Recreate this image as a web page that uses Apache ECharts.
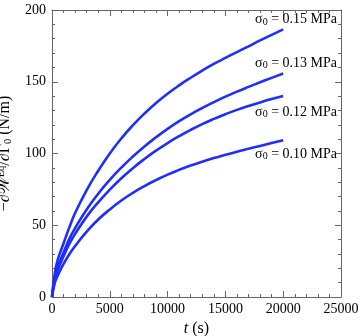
<!DOCTYPE html>
<html>
<head>
<meta charset="utf-8">
<script src="https://cdn.jsdelivr.net/npm/echarts@6/dist/echarts.min.js"></script>
<style>html,body{margin:0;padding:0;background:#fff}#c{width:360px;height:336px}</style>
</head>
<body>
<div id="c"></div>
<script>
const times = [0, 250, 500, 1000, 1500, 2000, 3000, 4000, 5000, 6000, 7000, 8000, 9000, 10000, 11000, 12000, 13000, 14000, 15000, 16000, 17000, 18000, 19000, 20000];
const s015 = [0, 17, 26, 37.5, 48.5, 58.5, 74.5, 88, 100, 110.5, 119.7, 127.9, 135.2, 141.7, 147.5, 152.8, 157.8, 162.4, 166.6, 170.7, 174.7, 178.8, 182.7, 186.5];
const s013 = [0, 14, 21, 31, 40.5, 48, 61, 72, 81.6, 90.2, 97.9, 104.9, 111.3, 117.2, 122.5, 127.3, 131.7, 135.8, 139.6, 143.1, 146.4, 149.6, 152.7, 155.7];
const s012 = [0, 12.5, 19, 28.5, 37, 44, 56, 66, 74.8, 82.7, 89.8, 96.2, 102, 107.3, 112.1, 116.5, 120.5, 124.1, 127.4, 130.4, 133.1, 135.6, 137.9, 140];
const s010 = [0, 10, 15, 23, 29.8, 35.5, 45.5, 54, 61, 67.2, 72.6, 77.3, 81.5, 85.3, 88.6, 91.6, 94.3, 96.8, 99.1, 101.3, 103.3, 105.3, 107.3, 109.3];
const seriesLabels = ['0.15', '0.13', '0.12', '0.10'];
const seriesData = [s015, s013, s012, s010];
const xTicks = [0, 5000, 10000, 15000, 20000, 25000];
const yTicks = [0, 50, 100, 150, 200];

const FONT = 'Liberation Serif';
const frame = '#666';
const chart = echarts.init(document.getElementById('c'));
const axisCommon = {
  axisLine: {show: true, onZero: false, lineStyle: {color: frame, width: 1}},
  axisTick: {show: true, inside: true, length: 6, lineStyle: {color: frame}},
  minorTick: {show: true, splitNumber: 5, length: 3, lineStyle: {color: frame}},
  splitLine: {show: false}
};
const xBase = {type: 'value', min: xTicks[0], max: xTicks[xTicks.length - 1], interval: xTicks[1] - xTicks[0]};
const yBase = {type: 'value', min: yTicks[0], max: yTicks[yTicks.length - 1], interval: yTicks[1] - yTicks[0]};
chart.setOption({
  animation: false,
  backgroundColor: '#fff',
  grid: {left: 52, right: 19, top: 10, bottom: 39, containLabel: false, outerBoundsMode: 'none'},
  xAxis: [
    Object.assign({}, xBase, axisCommon, {
      position: 'bottom',
      axisLabel: {color: '#000', fontFamily: FONT, fontSize: 14, margin: 5, formatter: v => String(v)},
      name: '{i|t} (s)', nameLocation: 'middle', nameGap: 20,
      nameTextStyle: {color: '#000', fontFamily: FONT, fontSize: 16,
        rich: {i: {fontStyle: 'italic', fontFamily: FONT, fontSize: 16, color: '#000'}}}
    }),
    Object.assign({}, xBase, axisCommon, {position: 'top', axisLabel: {show: false}})
  ],
  yAxis: [
    Object.assign({}, yBase, axisCommon, {
      position: 'left',
      axisLabel: {color: '#000', fontFamily: FONT, fontSize: 14, margin: 6, formatter: v => String(v)},
      name: '{n|−∂}{w|𝒲}{sup|Eq}{n|/∂Γ}{sub|0}{n| (N/m)}', nameLocation: 'middle', nameGap: 25, nameRotate: 90,
      nameTextStyle: {color: '#000', fontFamily: FONT, fontSize: 16,
        rich: {
          n: {fontFamily: FONT, fontSize: 16, color: '#000'},
          w: {fontFamily: FONT, fontSize: 16, color: '#000'},
          sup: {fontFamily: FONT, fontSize: 10.5, color: '#000', verticalAlign: 'top', padding: [0, 0, 7, 0]},
          sub: {fontFamily: FONT, fontSize: 10.5, color: '#000', verticalAlign: 'bottom', padding: [6, 0, 0, 0]}
        }}
    }),
    Object.assign({}, yBase, axisCommon, {position: 'right', axisLabel: {show: false}})
  ],
  series: seriesData.map((d, k) => ({
    type: 'line',
    name: seriesLabels[k],
    data: times.map((t, i) => [t, d[i]]),
    smooth: 0.5,
    showSymbol: false,
    lineStyle: {color: '#1f2eff', width: 2.6},
    z: 3
  })),
  graphic: [
    {y: 21.5, label: seriesLabels[0]},
    {y: 65, label: seriesLabels[1]},
    {y: 114, label: seriesLabels[2]},
    {y: 156, label: seriesLabels[3]}
  ].map(o => ({
    type: 'text', right: 23, top: o.y - 9, z: 10,
    style: {
      text: '{s|σ}{sub|0}{s| = ' + o.label + ' MPa}',
      rich: {
        s: {fontFamily: FONT, fontSize: 14, fill: '#000'},
        sub: {fontFamily: FONT, fontSize: 10, fill: '#000', verticalAlign: 'bottom', padding: [5, 0, 0, 0]}
      }
    }
  }))
});
</script>
</body>
</html>
